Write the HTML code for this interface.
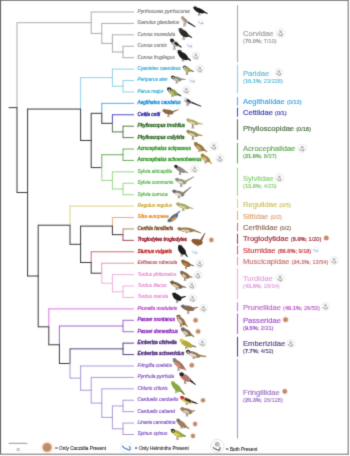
<!DOCTYPE html>
<html><head><meta charset="utf-8"><style>
html,body{margin:0;padding:0;background:#fff;}
svg{display:block;font-family:"Liberation Sans",sans-serif;}
</style></head><body>
<svg width="350" height="456" viewBox="0 0 350 456">
<defs><filter id="soft" color-interpolation-filters="sRGB" x="0" y="0" width="350" height="456" filterUnits="userSpaceOnUse"><feConvolveMatrix order="3" kernelMatrix="0.12 0.7 0.12 0.7 4 0.7 0.12 0.7 0.12" divisor="7.28" edgeMode="duplicate" preserveAlpha="false"/></filter></defs>
<g filter="url(#soft)">
<rect x="0" y="0" width="350" height="456" fill="#fff"/>
<g stroke-width="1.0" fill="none" stroke-linecap="butt">
<line x1="17.00" y1="22.21" x2="17.00" y2="108.12" stroke="#adadad"/>
<line x1="17.00" y1="22.71" x2="91.20" y2="22.71" stroke="#adadad"/>
<line x1="91.20" y1="11.50" x2="91.20" y2="23.21" stroke="#adadad"/>
<line x1="91.20" y1="12.00" x2="134.00" y2="12.00" stroke="#adadad"/>
<line x1="91.20" y1="22.21" x2="91.20" y2="33.91" stroke="#adadad"/>
<line x1="91.20" y1="33.41" x2="101.80" y2="33.41" stroke="#adadad"/>
<line x1="101.80" y1="22.92" x2="101.80" y2="33.91" stroke="#adadad"/>
<line x1="101.80" y1="23.42" x2="134.00" y2="23.42" stroke="#adadad"/>
<line x1="101.80" y1="32.91" x2="101.80" y2="43.90" stroke="#adadad"/>
<line x1="101.80" y1="43.40" x2="112.40" y2="43.40" stroke="#adadad"/>
<line x1="112.40" y1="34.34" x2="112.40" y2="43.90" stroke="#adadad"/>
<line x1="112.40" y1="34.84" x2="134.00" y2="34.84" stroke="#adadad"/>
<line x1="112.40" y1="42.90" x2="112.40" y2="52.47" stroke="#adadad"/>
<line x1="112.40" y1="51.97" x2="123.00" y2="51.97" stroke="#adadad"/>
<line x1="123.00" y1="45.76" x2="123.00" y2="52.47" stroke="#adadad"/>
<line x1="123.00" y1="46.26" x2="134.00" y2="46.26" stroke="#adadad"/>
<line x1="123.00" y1="51.47" x2="123.00" y2="58.18" stroke="#adadad"/>
<line x1="123.00" y1="57.68" x2="134.00" y2="57.68" stroke="#adadad"/>
<line x1="17.00" y1="107.12" x2="17.00" y2="193.04" stroke="#3c3c3c"/>
<line x1="17.00" y1="192.54" x2="27.60" y2="192.54" stroke="#3c3c3c"/>
<line x1="27.60" y1="108.56" x2="27.60" y2="193.04" stroke="#3c3c3c"/>
<line x1="27.60" y1="109.06" x2="80.60" y2="109.06" stroke="#3c3c3c"/>
<line x1="80.60" y1="77.16" x2="80.60" y2="109.56" stroke="#92d0e6"/>
<line x1="80.60" y1="77.66" x2="112.40" y2="77.66" stroke="#92d0e6"/>
<line x1="112.40" y1="68.59" x2="112.40" y2="78.16" stroke="#92d0e6"/>
<line x1="112.40" y1="69.09" x2="134.00" y2="69.09" stroke="#92d0e6"/>
<line x1="112.40" y1="77.16" x2="112.40" y2="86.72" stroke="#92d0e6"/>
<line x1="112.40" y1="86.22" x2="123.00" y2="86.22" stroke="#92d0e6"/>
<line x1="123.00" y1="80.01" x2="123.00" y2="86.72" stroke="#92d0e6"/>
<line x1="123.00" y1="80.51" x2="134.00" y2="80.51" stroke="#92d0e6"/>
<line x1="123.00" y1="85.72" x2="123.00" y2="92.43" stroke="#92d0e6"/>
<line x1="123.00" y1="91.93" x2="134.00" y2="91.93" stroke="#92d0e6"/>
<line x1="80.60" y1="108.56" x2="80.60" y2="140.96" stroke="#3c3c3c"/>
<line x1="80.60" y1="140.46" x2="91.20" y2="140.46" stroke="#3c3c3c"/>
<line x1="91.20" y1="112.84" x2="91.20" y2="140.96" stroke="#3c3c3c"/>
<line x1="91.20" y1="113.34" x2="101.80" y2="113.34" stroke="#3c3c3c"/>
<line x1="101.80" y1="102.85" x2="101.80" y2="113.84" stroke="#54ace2"/>
<line x1="101.80" y1="103.35" x2="134.00" y2="103.35" stroke="#54ace2"/>
<line x1="101.80" y1="112.84" x2="101.80" y2="123.84" stroke="#3c3c3c"/>
<line x1="101.80" y1="123.34" x2="112.40" y2="123.34" stroke="#3c3c3c"/>
<line x1="112.40" y1="114.27" x2="112.40" y2="123.84" stroke="#5050c4"/>
<line x1="112.40" y1="114.77" x2="134.00" y2="114.77" stroke="#5050c4"/>
<line x1="112.40" y1="122.84" x2="112.40" y2="132.40" stroke="#5a7e52"/>
<line x1="112.40" y1="131.90" x2="123.00" y2="131.90" stroke="#5a7e52"/>
<line x1="123.00" y1="125.69" x2="123.00" y2="132.40" stroke="#5a7e52"/>
<line x1="123.00" y1="126.19" x2="134.00" y2="126.19" stroke="#5a7e52"/>
<line x1="123.00" y1="131.40" x2="123.00" y2="138.11" stroke="#5a7e52"/>
<line x1="123.00" y1="137.61" x2="134.00" y2="137.61" stroke="#5a7e52"/>
<line x1="91.20" y1="139.96" x2="91.20" y2="168.08" stroke="#3c3c3c"/>
<line x1="91.20" y1="167.58" x2="101.80" y2="167.58" stroke="#3c3c3c"/>
<line x1="101.80" y1="154.24" x2="101.80" y2="168.08" stroke="#68b05a"/>
<line x1="101.80" y1="154.74" x2="123.00" y2="154.74" stroke="#68b05a"/>
<line x1="123.00" y1="148.53" x2="123.00" y2="155.24" stroke="#68b05a"/>
<line x1="123.00" y1="149.03" x2="134.00" y2="149.03" stroke="#68b05a"/>
<line x1="123.00" y1="154.24" x2="123.00" y2="160.95" stroke="#68b05a"/>
<line x1="123.00" y1="160.45" x2="134.00" y2="160.45" stroke="#68b05a"/>
<line x1="101.80" y1="167.08" x2="101.80" y2="180.93" stroke="#98d888"/>
<line x1="101.80" y1="180.43" x2="112.40" y2="180.43" stroke="#98d888"/>
<line x1="112.40" y1="171.37" x2="112.40" y2="180.93" stroke="#98d888"/>
<line x1="112.40" y1="171.87" x2="134.00" y2="171.87" stroke="#98d888"/>
<line x1="112.40" y1="179.93" x2="112.40" y2="189.49" stroke="#98d888"/>
<line x1="112.40" y1="188.99" x2="123.00" y2="188.99" stroke="#98d888"/>
<line x1="123.00" y1="182.78" x2="123.00" y2="189.49" stroke="#98d888"/>
<line x1="123.00" y1="183.28" x2="134.00" y2="183.28" stroke="#98d888"/>
<line x1="123.00" y1="188.49" x2="123.00" y2="195.20" stroke="#98d888"/>
<line x1="123.00" y1="194.70" x2="134.00" y2="194.70" stroke="#98d888"/>
<line x1="27.60" y1="192.04" x2="27.60" y2="276.52" stroke="#3c3c3c"/>
<line x1="27.60" y1="276.02" x2="38.20" y2="276.02" stroke="#3c3c3c"/>
<line x1="38.20" y1="224.71" x2="38.20" y2="276.52" stroke="#3c3c3c"/>
<line x1="38.20" y1="225.21" x2="70.00" y2="225.21" stroke="#3c3c3c"/>
<line x1="70.00" y1="205.62" x2="70.00" y2="225.71" stroke="#dcd28c"/>
<line x1="70.00" y1="206.12" x2="134.00" y2="206.12" stroke="#dcd28c"/>
<line x1="70.00" y1="224.71" x2="70.00" y2="244.81" stroke="#3c3c3c"/>
<line x1="70.00" y1="244.31" x2="80.60" y2="244.31" stroke="#3c3c3c"/>
<line x1="80.60" y1="225.61" x2="80.60" y2="244.81" stroke="#3c3c3c"/>
<line x1="80.60" y1="226.11" x2="112.40" y2="226.11" stroke="#3c3c3c"/>
<line x1="112.40" y1="217.04" x2="112.40" y2="226.61" stroke="#e6b07c"/>
<line x1="112.40" y1="217.54" x2="134.00" y2="217.54" stroke="#e6b07c"/>
<line x1="112.40" y1="225.61" x2="112.40" y2="235.17" stroke="#3c3c3c"/>
<line x1="112.40" y1="234.67" x2="123.00" y2="234.67" stroke="#3c3c3c"/>
<line x1="123.00" y1="228.46" x2="123.00" y2="235.17" stroke="#ac8c70"/>
<line x1="123.00" y1="228.96" x2="134.00" y2="228.96" stroke="#ac8c70"/>
<line x1="123.00" y1="234.17" x2="123.00" y2="240.88" stroke="#a44858"/>
<line x1="123.00" y1="240.38" x2="134.00" y2="240.38" stroke="#a44858"/>
<line x1="80.60" y1="243.81" x2="80.60" y2="263.00" stroke="#3c3c3c"/>
<line x1="80.60" y1="262.50" x2="91.20" y2="262.50" stroke="#3c3c3c"/>
<line x1="91.20" y1="251.30" x2="91.20" y2="263.00" stroke="#d46474"/>
<line x1="91.20" y1="251.80" x2="134.00" y2="251.80" stroke="#d46474"/>
<line x1="91.20" y1="262.00" x2="91.20" y2="273.71" stroke="#3c3c3c"/>
<line x1="91.20" y1="273.21" x2="101.80" y2="273.21" stroke="#3c3c3c"/>
<line x1="101.80" y1="262.72" x2="101.80" y2="273.71" stroke="#e09ca8"/>
<line x1="101.80" y1="263.22" x2="134.00" y2="263.22" stroke="#e09ca8"/>
<line x1="101.80" y1="272.71" x2="101.80" y2="283.70" stroke="#eeb0dc"/>
<line x1="101.80" y1="283.20" x2="112.40" y2="283.20" stroke="#eeb0dc"/>
<line x1="112.40" y1="274.14" x2="112.40" y2="283.70" stroke="#eeb0dc"/>
<line x1="112.40" y1="274.64" x2="134.00" y2="274.64" stroke="#eeb0dc"/>
<line x1="112.40" y1="282.70" x2="112.40" y2="292.27" stroke="#eeb0dc"/>
<line x1="112.40" y1="291.77" x2="123.00" y2="291.77" stroke="#eeb0dc"/>
<line x1="123.00" y1="285.56" x2="123.00" y2="292.27" stroke="#eeb0dc"/>
<line x1="123.00" y1="286.06" x2="134.00" y2="286.06" stroke="#eeb0dc"/>
<line x1="123.00" y1="291.27" x2="123.00" y2="297.98" stroke="#eeb0dc"/>
<line x1="123.00" y1="297.48" x2="134.00" y2="297.48" stroke="#eeb0dc"/>
<line x1="38.20" y1="275.52" x2="38.20" y2="327.33" stroke="#3c3c3c"/>
<line x1="38.20" y1="326.83" x2="48.80" y2="326.83" stroke="#3c3c3c"/>
<line x1="48.80" y1="308.39" x2="48.80" y2="327.33" stroke="#d878e2"/>
<line x1="48.80" y1="308.89" x2="134.00" y2="308.89" stroke="#d878e2"/>
<line x1="48.80" y1="326.33" x2="48.80" y2="345.26" stroke="#3c3c3c"/>
<line x1="48.80" y1="344.76" x2="59.40" y2="344.76" stroke="#3c3c3c"/>
<line x1="59.40" y1="325.52" x2="59.40" y2="345.26" stroke="#a664d2"/>
<line x1="59.40" y1="326.02" x2="123.00" y2="326.02" stroke="#a664d2"/>
<line x1="123.00" y1="319.81" x2="123.00" y2="326.52" stroke="#a664d2"/>
<line x1="123.00" y1="320.31" x2="134.00" y2="320.31" stroke="#a664d2"/>
<line x1="123.00" y1="325.52" x2="123.00" y2="332.23" stroke="#a664d2"/>
<line x1="123.00" y1="331.73" x2="134.00" y2="331.73" stroke="#a664d2"/>
<line x1="59.40" y1="344.26" x2="59.40" y2="363.99" stroke="#3c3c3c"/>
<line x1="59.40" y1="363.49" x2="70.00" y2="363.49" stroke="#3c3c3c"/>
<line x1="70.00" y1="348.36" x2="70.00" y2="363.99" stroke="#5a4682"/>
<line x1="70.00" y1="348.86" x2="123.00" y2="348.86" stroke="#5a4682"/>
<line x1="123.00" y1="342.65" x2="123.00" y2="349.36" stroke="#5a4682"/>
<line x1="123.00" y1="343.15" x2="134.00" y2="343.15" stroke="#5a4682"/>
<line x1="123.00" y1="348.36" x2="123.00" y2="355.07" stroke="#5a4682"/>
<line x1="123.00" y1="354.57" x2="134.00" y2="354.57" stroke="#5a4682"/>
<line x1="70.00" y1="362.99" x2="70.00" y2="378.62" stroke="#ae98d8"/>
<line x1="70.00" y1="378.12" x2="80.60" y2="378.12" stroke="#ae98d8"/>
<line x1="80.60" y1="365.49" x2="80.60" y2="378.62" stroke="#ae98d8"/>
<line x1="80.60" y1="365.99" x2="134.00" y2="365.99" stroke="#ae98d8"/>
<line x1="80.60" y1="377.62" x2="80.60" y2="390.75" stroke="#ae98d8"/>
<line x1="80.60" y1="390.25" x2="91.20" y2="390.25" stroke="#ae98d8"/>
<line x1="91.20" y1="376.91" x2="91.20" y2="390.75" stroke="#ae98d8"/>
<line x1="91.20" y1="377.41" x2="134.00" y2="377.41" stroke="#ae98d8"/>
<line x1="91.20" y1="389.75" x2="91.20" y2="403.60" stroke="#ae98d8"/>
<line x1="91.20" y1="403.10" x2="101.80" y2="403.10" stroke="#ae98d8"/>
<line x1="101.80" y1="388.33" x2="101.80" y2="403.60" stroke="#ae98d8"/>
<line x1="101.80" y1="388.83" x2="134.00" y2="388.83" stroke="#ae98d8"/>
<line x1="101.80" y1="402.60" x2="101.80" y2="417.87" stroke="#ae98d8"/>
<line x1="101.80" y1="417.37" x2="112.40" y2="417.37" stroke="#ae98d8"/>
<line x1="112.40" y1="405.46" x2="112.40" y2="417.87" stroke="#ae98d8"/>
<line x1="112.40" y1="405.96" x2="123.00" y2="405.96" stroke="#ae98d8"/>
<line x1="123.00" y1="399.75" x2="123.00" y2="406.46" stroke="#ae98d8"/>
<line x1="123.00" y1="400.25" x2="134.00" y2="400.25" stroke="#ae98d8"/>
<line x1="123.00" y1="405.46" x2="123.00" y2="412.17" stroke="#ae98d8"/>
<line x1="123.00" y1="411.67" x2="134.00" y2="411.67" stroke="#ae98d8"/>
<line x1="112.40" y1="416.87" x2="112.40" y2="429.29" stroke="#ae98d8"/>
<line x1="112.40" y1="428.79" x2="123.00" y2="428.79" stroke="#ae98d8"/>
<line x1="123.00" y1="422.58" x2="123.00" y2="429.29" stroke="#ae98d8"/>
<line x1="123.00" y1="423.08" x2="134.00" y2="423.08" stroke="#ae98d8"/>
<line x1="123.00" y1="428.29" x2="123.00" y2="435.00" stroke="#ae98d8"/>
<line x1="123.00" y1="434.50" x2="134.00" y2="434.50" stroke="#ae98d8"/>
<line x1="8.60" y1="107.62" x2="17.00" y2="107.62" stroke="#3c3c3c"/>
</g>
<g font-size="4.8" font-style="italic">
<text x="137.5" y="12.90" fill="#888888" stroke="#888888" stroke-width="0.2">Pyrrhocorax pyrrhocorax</text>
<text x="137.5" y="24.32" fill="#888888" stroke="#888888" stroke-width="0.2">Garrulus glandarius</text>
<text x="137.5" y="35.74" fill="#888888" stroke="#888888" stroke-width="0.2">Corvus monedula</text>
<text x="137.5" y="47.16" fill="#888888" stroke="#888888" stroke-width="0.2">Corvus cornix</text>
<text x="137.5" y="58.58" fill="#888888" stroke="#888888" stroke-width="0.2">Corvus frugilegus</text>
<text x="137.5" y="70.00" fill="#44b2da" stroke="#44b2da" stroke-width="0.2">Cyanistes caeruleus</text>
<text x="137.5" y="81.41" fill="#44b2da" stroke="#44b2da" stroke-width="0.2">Periparus ater</text>
<text x="137.5" y="92.83" fill="#44b2da" stroke="#44b2da" stroke-width="0.2">Parus major</text>
<text x="137.5" y="104.25" fill="#2096dc" stroke="#2096dc" stroke-width="0.34">Aegithalos caudatus</text>
<text x="137.5" y="115.67" fill="#3030a8" stroke="#3030a8" stroke-width="0.34">Cettia cetti</text>
<text x="137.5" y="127.09" fill="#2e6a24" stroke="#2e6a24" stroke-width="0.34">Phylloscopus trochilus</text>
<text x="137.5" y="138.51" fill="#2e6a24" stroke="#2e6a24" stroke-width="0.34">Phylloscopus collybita</text>
<text x="137.5" y="149.93" fill="#3a9a30" stroke="#3a9a30" stroke-width="0.34">Acrocephalus scirpaceus</text>
<text x="137.5" y="161.35" fill="#3a9a30" stroke="#3a9a30" stroke-width="0.34">Acrocephalus schoenobaenus</text>
<text x="137.5" y="172.77" fill="#58b84c" stroke="#58b84c" stroke-width="0.2">Sylvia atricapilla</text>
<text x="137.5" y="184.19" fill="#58b84c" stroke="#58b84c" stroke-width="0.2">Sylvia communis</text>
<text x="137.5" y="195.60" fill="#58b84c" stroke="#58b84c" stroke-width="0.2">Sylvia curruca</text>
<text x="137.5" y="207.02" fill="#c8a830" stroke="#c8a830" stroke-width="0.2">Regulus regulus</text>
<text x="137.5" y="218.44" fill="#e88820" stroke="#e88820" stroke-width="0.2">Sitta europaea</text>
<text x="137.5" y="229.86" fill="#7a5028" stroke="#7a5028" stroke-width="0.34">Certhia familiaris</text>
<text x="137.5" y="241.28" fill="#981c30" stroke="#981c30" stroke-width="0.34">Troglodytes troglodytes</text>
<text x="137.5" y="252.70" fill="#c02828" stroke="#c02828" stroke-width="0.34">Sturnus vulgaris</text>
<text x="137.5" y="264.12" fill="#b86060" stroke="#b86060" stroke-width="0.2">Erithacus rubecula</text>
<text x="137.5" y="275.54" fill="#e890d0" stroke="#e890d0" stroke-width="0.2">Turdus philomelos</text>
<text x="137.5" y="286.96" fill="#e890d0" stroke="#e890d0" stroke-width="0.2">Turdus iliacus</text>
<text x="137.5" y="298.38" fill="#e890d0" stroke="#e890d0" stroke-width="0.2">Turdus merula</text>
<text x="137.5" y="309.79" fill="#b840c8" stroke="#b840c8" stroke-width="0.2">Prunella modularis</text>
<text x="137.5" y="321.21" fill="#9030c0" stroke="#9030c0" stroke-width="0.34">Passer montanus</text>
<text x="137.5" y="332.63" fill="#9030c0" stroke="#9030c0" stroke-width="0.34">Passer domesticus</text>
<text x="137.5" y="344.05" fill="#4a2478" stroke="#4a2478" stroke-width="0.34">Emberiza citrinella</text>
<text x="137.5" y="355.47" fill="#4a2478" stroke="#4a2478" stroke-width="0.34">Emberiza schoeniclus</text>
<text x="137.5" y="366.89" fill="#8a60c8" stroke="#8a60c8" stroke-width="0.2">Fringilla coelebs</text>
<text x="137.5" y="378.31" fill="#8a60c8" stroke="#8a60c8" stroke-width="0.2">Pyrrhula pyrrhula</text>
<text x="137.5" y="389.73" fill="#8a60c8" stroke="#8a60c8" stroke-width="0.2">Chloris chloris</text>
<text x="137.5" y="401.15" fill="#8a60c8" stroke="#8a60c8" stroke-width="0.2">Carduelis carduelis</text>
<text x="137.5" y="412.56" fill="#8a60c8" stroke="#8a60c8" stroke-width="0.2">Carduelis cabaret</text>
<text x="137.5" y="423.98" fill="#8a60c8" stroke="#8a60c8" stroke-width="0.2">Linaria cannabina</text>
<text x="137.5" y="435.40" fill="#8a60c8" stroke="#8a60c8" stroke-width="0.2">Spinus spinus</text>
</g>
<g>
<polyline points="198.44,15.80 199.14,11.97 200.04,15.80" fill="none" stroke="#4a4038" stroke-width="0.55"/><polygon points="202.35,12.26 207.42,14.08 207.78,13.32 203.14,10.60" fill="#1e1e1e"/><ellipse cx="199.33" cy="10.50" rx="5.45" ry="2.30" fill="#1e1e1e" transform="rotate(24.3 199.33 10.50)"/><circle cx="195.12" cy="7.99" r="1.66" fill="#1e1e1e"/><polygon points="192.70,6.90 195.35,7.46 194.81,8.67" fill="#1e1e1e"/>
<polyline points="183.76,26.50 184.46,21.55 185.36,26.50" fill="none" stroke="#4a4038" stroke-width="0.55"/><polygon points="186.18,22.35 195.30,27.17 195.70,26.43 186.99,20.83" fill="#242424"/><ellipse cx="184.76" cy="20.49" rx="3.90" ry="2.15" fill="#cdbfb5" transform="rotate(45.0 184.76 20.49)"/><ellipse cx="185.54" cy="20.54" rx="2.42" ry="1.07" fill="#8a8a8a" transform="rotate(45.0 185.54 20.54)"/><circle cx="182.75" cy="17.75" r="1.55" fill="#a89484"/><polygon points="181.00,16.00 183.13,17.37 182.26,18.24" fill="#a89484"/>
<polyline points="182.87,40.00 183.57,34.93 184.47,40.00" fill="none" stroke="#4a4038" stroke-width="0.55"/><polygon points="186.05,35.47 191.80,38.07 192.20,37.33 187.17,33.44" fill="#2a2a2a"/><ellipse cx="183.92" cy="33.31" rx="5.31" ry="2.90" fill="#2a2a2a" transform="rotate(36.9 183.92 33.31)"/><circle cx="180.67" cy="30.00" r="2.09" fill="#3a3a3a"/><polygon points="178.00,28.00 181.11,29.42 180.11,30.76" fill="#3a3a3a"/>
<polyline points="173.64,50.00 174.34,44.65 175.24,50.00" fill="none" stroke="#4a4038" stroke-width="0.55"/><polygon points="176.20,44.92 181.47,47.75 181.93,47.05 177.33,43.17" fill="#1e1e1e"/><ellipse cx="174.65" cy="43.21" rx="4.40" ry="2.60" fill="#b0b0b0" transform="rotate(37.6 174.65 43.21)"/><ellipse cx="176.43" cy="43.79" rx="2.42" ry="1.30" fill="#1e1e1e" transform="rotate(37.6 176.43 43.79)"/><circle cx="172.07" cy="40.43" r="1.87" fill="#1e1e1e"/><polygon points="169.70,38.60 172.47,39.91 171.56,41.10" fill="#1e1e1e"/>
<polyline points="182.06,61.50 182.76,57.53 183.66,61.50" fill="none" stroke="#4a4038" stroke-width="0.55"/><polygon points="185.47,58.39 190.68,60.96 191.12,60.24 186.73,56.35" fill="#1e1e1e"/><ellipse cx="183.14" cy="55.90" rx="5.78" ry="3.00" fill="#1e1e1e" transform="rotate(39.0 183.14 55.90)"/><circle cx="179.69" cy="52.17" r="2.16" fill="#1e1e1e"/><polygon points="177.00,50.00 180.16,51.59 179.07,52.93" fill="#1e1e1e"/>
<polyline points="186.11,75.00 186.81,70.91 187.71,75.00" fill="none" stroke="#4a4038" stroke-width="0.55"/><polygon points="188.45,70.68 193.79,72.00 194.01,71.20 188.99,68.76" fill="#5a6a78"/><ellipse cx="187.07" cy="69.41" rx="3.70" ry="2.50" fill="#a0a458" transform="rotate(31.4 187.07 69.41)"/><ellipse cx="186.07" cy="69.98" rx="2.22" ry="1.25" fill="#d0c458" transform="rotate(31.4 186.07 69.98)"/><circle cx="184.76" cy="67.30" r="1.80" fill="#4a5a70"/><polygon points="182.30,65.80 185.09,66.76 184.34,67.99" fill="#4a5a70"/><circle cx="184.83" cy="67.87" r="0.90" fill="#f0f0f0"/>
<polyline points="175.98,83.50 176.68,80.39 177.58,83.50" fill="none" stroke="#4a4038" stroke-width="0.55"/><polygon points="179.74,80.03 185.82,79.72 185.78,78.88 179.66,78.23" fill="#8a8a7a"/><ellipse cx="176.80" cy="78.87" rx="4.78" ry="2.25" fill="#8a8a7a" transform="rotate(15.8 176.80 78.87)"/><ellipse cx="175.87" cy="79.54" rx="2.87" ry="1.12" fill="#c8c0b0" transform="rotate(15.8 175.87 79.54)"/><circle cx="172.89" cy="77.21" r="1.62" fill="#222"/><polygon points="170.40,76.50 173.05,76.66 172.70,77.91" fill="#222"/><circle cx="173.10" cy="77.68" r="0.81" fill="#e8e8e8"/>
<polyline points="171.77,97.00 172.47,93.83 173.37,97.00" fill="none" stroke="#4a4038" stroke-width="0.55"/><polygon points="175.13,94.14 181.12,96.38 181.48,95.62 176.05,92.14" fill="#404848"/><ellipse cx="172.76" cy="92.19" rx="5.26" ry="2.75" fill="#8a9a58" transform="rotate(31.4 172.76 92.19)"/><ellipse cx="171.51" cy="92.72" rx="3.15" ry="1.38" fill="#c4bc5c" transform="rotate(31.4 171.51 92.72)"/><circle cx="169.21" cy="89.25" r="1.98" fill="#262626"/><polygon points="166.50,87.60 169.57,88.66 168.74,90.01" fill="#262626"/><circle cx="169.29" cy="89.88" r="0.99" fill="#e8e8e8"/>
<polyline points="186.78,106.00 187.48,102.44 188.38,106.00" fill="none" stroke="#4a4038" stroke-width="0.55"/><polygon points="189.51,102.62 201.05,106.69 201.35,105.91 190.16,100.90" fill="#262626"/><ellipse cx="187.72" cy="101.08" rx="4.11" ry="2.30" fill="#b8a8a8" transform="rotate(32.4 187.72 101.08)"/><ellipse cx="188.54" cy="100.94" rx="2.55" ry="1.15" fill="#303030" transform="rotate(32.4 188.54 100.94)"/><circle cx="185.04" cy="98.72" r="1.66" fill="#e8e8e8"/><polygon points="182.80,97.30 185.35,98.23 184.64,99.35" fill="#e8e8e8"/>
<polyline points="167.70,117.00 168.40,113.60 169.30,117.00" fill="none" stroke="#4a4038" stroke-width="0.55"/><polygon points="172.11,113.00 178.70,109.87 178.30,109.13 171.25,111.42" fill="#8a6a44"/><ellipse cx="168.50" cy="112.06" rx="5.06" ry="2.25" fill="#8a6a44" transform="rotate(12.5 168.50 112.06)"/><circle cx="164.23" cy="110.56" r="1.62" fill="#8a6a44"/><polygon points="161.70,110.00 164.35,110.01 164.07,111.27" fill="#8a6a44"/>
<polyline points="192.04,128.60 192.74,123.73 193.64,128.60" fill="none" stroke="#4a4038" stroke-width="0.55"/><polygon points="196.60,123.94 202.84,124.62 202.96,123.78 196.86,122.15" fill="#b0a868"/><ellipse cx="192.89" cy="122.24" rx="5.80" ry="2.25" fill="#b0a868" transform="rotate(19.7 192.89 122.24)"/><ellipse cx="191.77" cy="122.80" rx="3.48" ry="1.12" fill="#e0d8a0" transform="rotate(19.7 191.77 122.80)"/><circle cx="188.14" cy="119.97" r="1.62" fill="#b0a868"/><polygon points="185.70,119.10 188.33,119.44 187.90,120.66" fill="#b0a868"/>
<polyline points="192.10,140.00 192.80,135.39 193.70,140.00" fill="none" stroke="#4a4038" stroke-width="0.55"/><polygon points="196.50,135.46 202.44,136.12 202.56,135.28 196.79,133.57" fill="#9a8a58"/><ellipse cx="192.96" cy="133.81" rx="5.75" ry="2.40" fill="#9a8a58" transform="rotate(19.7 192.96 133.81)"/><ellipse cx="191.82" cy="134.42" rx="3.45" ry="1.20" fill="#d8d0a0" transform="rotate(19.7 191.82 134.42)"/><circle cx="188.30" cy="131.53" r="1.73" fill="#9a8a58"/><polygon points="185.70,130.60 188.51,130.96 188.04,132.26" fill="#9a8a58"/>
<polyline points="198.61,152.00 199.31,148.83 200.21,152.00" fill="none" stroke="#4a4038" stroke-width="0.55"/><polygon points="201.97,149.42 206.94,152.33 207.46,151.67 203.32,147.69" fill="#9a7838"/><ellipse cx="199.62" cy="147.25" rx="5.57" ry="2.75" fill="#9a7838" transform="rotate(34.9 199.62 147.25)"/><ellipse cx="198.31" cy="147.67" rx="3.34" ry="1.38" fill="#c8a870" transform="rotate(34.9 198.31 147.67)"/><circle cx="196.00" cy="143.91" r="1.98" fill="#9a7838"/><polygon points="193.40,142.10 196.39,143.35 195.49,144.64" fill="#9a7838"/>
<polyline points="204.72,163.50 205.42,159.96 206.32,163.50" fill="none" stroke="#4a4038" stroke-width="0.55"/><polygon points="207.36,160.12 211.14,163.92 211.86,163.48 209.13,159.02" fill="#a88840"/><ellipse cx="205.73" cy="158.49" rx="4.88" ry="2.60" fill="#a88840" transform="rotate(36.5 205.73 158.49)"/><ellipse cx="204.53" cy="158.89" rx="2.93" ry="1.30" fill="#d8c080" transform="rotate(36.5 204.53 158.89)"/><circle cx="202.71" cy="155.48" r="1.87" fill="#a88840"/><polygon points="200.30,153.70 203.10,154.95 202.21,156.16" fill="#a88840"/>
<polyline points="179.30,175.00 180.00,170.83 180.90,175.00" fill="none" stroke="#4a4038" stroke-width="0.55"/><polygon points="183.45,171.67 188.04,173.19 188.36,172.41 184.15,169.97" fill="#8e8a82"/><ellipse cx="180.23" cy="169.43" rx="5.75" ry="2.30" fill="#8e8a82" transform="rotate(29.5 180.23 169.43)"/><circle cx="176.01" cy="166.41" r="1.66" fill="#2a2a2a"/><polygon points="173.70,165.10 176.29,165.90 175.64,167.05" fill="#2a2a2a"/>
<polyline points="180.47,187.00 181.17,183.13 182.07,187.00" fill="none" stroke="#4a4038" stroke-width="0.55"/><polygon points="185.20,182.82 194.25,177.04 193.75,176.36 184.07,181.26" fill="#a09478"/><ellipse cx="181.33" cy="181.54" rx="5.34" ry="2.40" fill="#a09478" transform="rotate(18.6 181.33 181.54)"/><ellipse cx="180.26" cy="182.19" rx="3.20" ry="1.20" fill="#e0d8c8" transform="rotate(18.6 180.26 182.19)"/><circle cx="177.02" cy="179.48" r="1.73" fill="#8a8a88"/><polygon points="174.40,178.60 177.21,178.91 176.77,180.22" fill="#8a8a88"/>
<polyline points="178.08,198.40 178.78,195.13 179.68,198.40" fill="none" stroke="#4a4038" stroke-width="0.55"/><polygon points="183.31,194.71 191.41,187.08 190.79,186.52 181.84,193.35" fill="#8a8070"/><ellipse cx="178.93" cy="193.47" rx="5.77" ry="2.50" fill="#8a8070" transform="rotate(18.2 178.93 193.47)"/><ellipse cx="177.80" cy="194.15" rx="3.46" ry="1.25" fill="#e8e4dc" transform="rotate(18.2 177.80 194.15)"/><circle cx="174.24" cy="191.30" r="1.80" fill="#6a6a6a"/><polygon points="171.50,190.40 174.43,190.70 173.98,192.07" fill="#6a6a6a"/>
<polyline points="182.50,211.00 183.20,207.92 184.10,211.00" fill="none" stroke="#4a4038" stroke-width="0.55"/><polygon points="187.39,208.00 193.20,209.01 193.40,208.19 187.86,206.14" fill="#a8a868"/><ellipse cx="183.34" cy="206.32" rx="6.35" ry="2.40" fill="#a8a868" transform="rotate(17.5 183.34 206.32)"/><ellipse cx="182.15" cy="206.94" rx="3.81" ry="1.20" fill="#d0d0a0" transform="rotate(17.5 182.15 206.94)"/><circle cx="178.04" cy="204.03" r="1.73" fill="#a8a868"/><polygon points="175.40,203.20 178.22,203.46 177.80,204.77" fill="#a8a868"/>
<polygon points="176.57,215.67 180.50,210.99 179.90,210.41 175.14,214.27" fill="#5a6e84"/><ellipse cx="173.59" cy="217.68" rx="5.61" ry="2.50" fill="#5a6e84" transform="rotate(-40.3 173.59 217.68)"/><ellipse cx="173.59" cy="218.98" rx="3.37" ry="1.25" fill="#d89050" transform="rotate(-40.3 173.59 218.98)"/><circle cx="169.40" cy="220.44" r="1.80" fill="#5a6e84"/><polygon points="167.20,222.30 168.99,219.96 169.92,221.06" fill="#5a6e84"/>
<polyline points="185.83,233.00 186.53,231.47 187.43,233.00" fill="none" stroke="#4a4038" stroke-width="0.55"/><polygon points="192.25,230.71 201.03,233.58 201.37,232.82 193.00,229.03" fill="#9a7a50"/><ellipse cx="186.57" cy="229.87" rx="7.99" ry="2.30" fill="#9a7a50" transform="rotate(5.3 186.57 229.87)"/><ellipse cx="185.29" cy="230.68" rx="4.79" ry="1.15" fill="#e0d0b8" transform="rotate(5.3 185.29 230.68)"/><circle cx="179.24" cy="228.64" r="1.66" fill="#9a7a50"/><polygon points="176.60,228.40 179.29,228.07 179.17,229.38" fill="#9a7a50"/>
<polyline points="197.04,246.40 197.74,244.27 198.64,246.40" fill="none" stroke="#4a4038" stroke-width="0.55"/><polygon points="201.35,242.14 205.30,233.33 204.50,233.07 199.08,241.39" fill="#8a5a30"/><ellipse cx="197.82" cy="242.19" rx="4.88" ry="3.00" fill="#8a5a30" transform="rotate(7.4 197.82 242.19)"/><circle cx="193.83" cy="240.94" r="2.16" fill="#8a5a30"/><polygon points="190.40,240.50 193.92,240.19 193.70,241.91" fill="#8a5a30"/>
<polyline points="180.88,256.60 181.58,251.88 182.48,256.60" fill="none" stroke="#4a4038" stroke-width="0.55"/><polygon points="182.83,252.24 187.14,257.32 187.86,256.88 184.88,250.99" fill="#1e1e1e"/><ellipse cx="182.04" cy="250.54" rx="4.53" ry="3.00" fill="#1e1e1e" transform="rotate(50.5 182.04 250.54)"/><circle cx="180.20" cy="247.17" r="2.16" fill="#1e1e1e"/><polygon points="178.00,244.50 180.78,246.69 179.45,247.79" fill="#1e1e1e"/>
<polyline points="185.34,269.00 186.04,265.36 186.94,269.00" fill="none" stroke="#4a4038" stroke-width="0.55"/><polygon points="188.42,265.29 193.92,266.21 194.08,265.39 188.82,263.25" fill="#8a6a40"/><ellipse cx="186.28" cy="263.75" rx="4.53" ry="2.60" fill="#8a6a40" transform="rotate(27.8 186.28 263.75)"/><ellipse cx="185.20" cy="264.35" rx="2.72" ry="1.30" fill="#d87a3a" transform="rotate(27.8 185.20 264.35)"/><circle cx="183.15" cy="261.40" r="1.87" fill="#8a6a40"/><polygon points="180.50,260.00 183.46,260.82 182.76,262.14" fill="#8a6a40"/>
<polyline points="184.19,281.00 184.89,276.82 185.79,281.00" fill="none" stroke="#4a4038" stroke-width="0.55"/><polygon points="187.57,277.19 192.45,277.82 192.55,276.98 187.81,275.12" fill="#8a6a48"/><ellipse cx="185.17" cy="275.28" rx="4.80" ry="2.60" fill="#8a6a48" transform="rotate(32.7 185.17 275.28)"/><ellipse cx="184.00" cy="275.77" rx="2.88" ry="1.30" fill="#e0c8a0" transform="rotate(32.7 184.00 275.77)"/><circle cx="182.02" cy="272.52" r="1.87" fill="#8a6a48"/><polygon points="179.50,270.90 182.37,271.97 181.57,273.23" fill="#8a6a48"/>
<polyline points="175.92,290.00 176.62,286.90 177.52,290.00" fill="none" stroke="#4a4038" stroke-width="0.55"/><polygon points="180.52,287.37 186.17,287.72 186.23,286.88 180.66,285.30" fill="#7a6040"/><ellipse cx="176.84" cy="285.25" rx="6.07" ry="2.60" fill="#7a6040" transform="rotate(25.3 176.84 285.25)"/><ellipse cx="175.57" cy="285.81" rx="3.64" ry="1.30" fill="#d8c8b0" transform="rotate(25.3 175.57 285.81)"/><circle cx="172.21" cy="282.38" r="1.87" fill="#7a6040"/><polygon points="169.50,281.10 172.49,281.79 171.85,283.14" fill="#7a6040"/>
<polyline points="176.28,303.00 176.98,298.88 177.88,303.00" fill="none" stroke="#4a4038" stroke-width="0.55"/><polygon points="180.16,299.04 186.10,296.67 185.70,295.93 179.10,297.11" fill="#1e1e1e"/><ellipse cx="177.29" cy="297.28" rx="4.73" ry="2.75" fill="#1e1e1e" transform="rotate(34.1 177.29 297.28)"/><circle cx="174.32" cy="294.48" r="1.98" fill="#1e1e1e"/><polygon points="171.70,292.70 174.71,293.90 173.82,295.21" fill="#1e1e1e"/>
<polyline points="187.50,314.00 188.20,309.97 189.10,314.00" fill="none" stroke="#4a4038" stroke-width="0.55"/><polygon points="192.97,309.56 197.98,307.58 197.62,306.82 192.11,307.75" fill="#8a6a50"/><ellipse cx="188.31" cy="308.27" rx="6.33" ry="2.50" fill="#8a6a50" transform="rotate(13.4 188.31 308.27)"/><circle cx="182.90" cy="306.37" r="1.80" fill="#6a6a70"/><polygon points="180.10,305.70 183.05,305.75 182.72,307.15" fill="#6a6a70"/>
<polyline points="180.13,327.00 180.83,322.27 181.73,327.00" fill="none" stroke="#4a4038" stroke-width="0.55"/><polygon points="183.00,323.52 187.30,326.99 187.90,326.41 184.67,321.91" fill="#9a7040"/><ellipse cx="181.26" cy="320.91" rx="5.54" ry="2.90" fill="#9a7040" transform="rotate(47.8 181.26 320.91)"/><ellipse cx="179.84" cy="321.07" rx="3.32" ry="1.45" fill="#d8c8b0" transform="rotate(47.8 179.84 321.07)"/><circle cx="178.54" cy="316.88" r="2.09" fill="#7a4a30"/><polygon points="176.30,314.40 179.08,316.38 177.85,317.51" fill="#7a4a30"/><circle cx="178.44" cy="317.54" r="1.04" fill="#e0e0e0"/>
<polyline points="185.64,337.00 186.34,333.98 187.24,337.00" fill="none" stroke="#4a4038" stroke-width="0.55"/><polygon points="188.97,334.46 193.95,337.24 194.45,336.56 190.29,332.70" fill="#8a7050"/><ellipse cx="186.65" cy="332.38" rx="5.49" ry="2.75" fill="#8a7050" transform="rotate(33.8 186.65 332.38)"/><ellipse cx="185.35" cy="332.84" rx="3.29" ry="1.38" fill="#d0c8c0" transform="rotate(33.8 185.35 332.84)"/><circle cx="183.03" cy="329.16" r="1.98" fill="#6a6a70"/><polygon points="180.40,327.40 183.42,328.59 182.54,329.90" fill="#6a6a70"/>
<polyline points="185.54,349.00 186.24,345.57 187.14,349.00" fill="none" stroke="#4a4038" stroke-width="0.55"/><polygon points="190.28,346.31 196.10,347.41 196.30,346.59 190.79,344.17" fill="#8a7a40"/><ellipse cx="186.50" cy="343.87" rx="6.56" ry="2.75" fill="#b8a840" transform="rotate(27.6 186.50 343.87)"/><circle cx="181.61" cy="340.57" r="1.98" fill="#d8c840"/><polygon points="178.80,339.10 181.93,339.95 181.19,341.36" fill="#d8c840"/>
<polyline points="192.97,359.00 193.67,356.16 194.57,359.00" fill="none" stroke="#4a4038" stroke-width="0.55"/><polygon points="198.45,356.51 206.27,356.92 206.33,356.08 198.61,354.43" fill="#9a7a58"/><ellipse cx="193.85" cy="354.44" rx="6.97" ry="2.60" fill="#9a7a58" transform="rotate(19.8 193.85 354.44)"/><ellipse cx="192.51" cy="355.07" rx="4.18" ry="1.30" fill="#e0dcd8" transform="rotate(19.8 192.51 355.07)"/><circle cx="188.12" cy="351.72" r="1.87" fill="#222"/><polygon points="185.30,350.70 188.34,351.10 187.83,352.51" fill="#222"/><circle cx="188.31" cy="352.28" r="0.94" fill="#d8d8d8"/>
<polyline points="177.82,371.00 178.52,365.94 179.42,371.00" fill="none" stroke="#4a4038" stroke-width="0.55"/><polygon points="181.93,367.67 185.69,370.48 186.31,369.92 183.56,366.19" fill="#a87060"/><ellipse cx="178.87" cy="364.48" rx="6.88" ry="2.75" fill="#a87060" transform="rotate(40.6 178.87 364.48)"/><ellipse cx="177.38" cy="364.65" rx="4.13" ry="1.38" fill="#d09070" transform="rotate(40.6 177.38 364.65)"/><circle cx="174.61" cy="359.96" r="1.98" fill="#7a8090"/><polygon points="172.20,357.90 175.06,359.43 174.03,360.64" fill="#7a8090"/>
<polyline points="184.39,384.00 185.09,379.50 185.99,384.00" fill="none" stroke="#4a4038" stroke-width="0.55"/><polygon points="187.75,379.92 195.43,385.02 195.97,384.38 189.27,378.06" fill="#222"/><ellipse cx="185.43" cy="377.77" rx="5.80" ry="3.00" fill="#d86a58" transform="rotate(34.2 185.43 377.77)"/><ellipse cx="186.55" cy="377.66" rx="3.59" ry="1.50" fill="#888" transform="rotate(34.2 186.55 377.66)"/><circle cx="181.66" cy="374.34" r="2.16" fill="#222"/><polygon points="178.80,372.40 182.08,373.71 181.11,375.14" fill="#222"/>
<polyline points="175.54,393.00 176.24,388.77 177.14,393.00" fill="none" stroke="#4a4038" stroke-width="0.55"/><polygon points="178.96,390.11 184.28,394.88 184.92,394.32 180.61,388.66" fill="#506030"/><ellipse cx="176.62" cy="387.36" rx="6.04" ry="2.75" fill="#88a840" transform="rotate(42.7 176.62 387.36)"/><circle cx="173.13" cy="383.25" r="1.98" fill="#88a840"/><polygon points="170.80,381.10 173.60,382.74 172.53,383.90" fill="#88a840"/>
<polyline points="185.90,405.00 186.60,402.04 187.50,405.00" fill="none" stroke="#4a4038" stroke-width="0.55"/><polygon points="190.29,402.37 197.48,404.00 197.72,403.20 190.86,400.37" fill="#222"/><ellipse cx="186.82" cy="400.38" rx="6.05" ry="2.60" fill="#c8a870" transform="rotate(24.0 186.82 400.38)"/><ellipse cx="185.56" cy="400.96" rx="3.63" ry="1.30" fill="#e8d040" transform="rotate(24.0 185.56 400.96)"/><ellipse cx="187.90" cy="400.18" rx="3.75" ry="1.30" fill="#333" transform="rotate(24.0 187.90 400.18)"/><circle cx="182.14" cy="397.62" r="1.87" fill="#d03030"/><polygon points="179.40,396.40 182.40,397.02 181.79,398.39" fill="#d03030"/>
<polyline points="186.13,416.50 186.83,412.90 187.73,416.50" fill="none" stroke="#4a4038" stroke-width="0.55"/><polygon points="190.86,412.50 195.26,411.09 194.94,410.31 190.01,410.48" fill="#9a8060"/><ellipse cx="187.00" cy="411.07" rx="5.73" ry="2.75" fill="#9a8060" transform="rotate(18.0 187.00 411.07)"/><ellipse cx="185.84" cy="411.85" rx="3.44" ry="1.38" fill="#d8c8b0" transform="rotate(18.0 185.84 411.85)"/><circle cx="182.41" cy="408.88" r="1.98" fill="#9a8060"/><polygon points="179.40,407.90 182.63,408.22 182.14,409.73" fill="#9a8060"/>
<polyline points="180.72,428.60 181.42,425.40 182.32,428.60" fill="none" stroke="#4a4038" stroke-width="0.55"/><polygon points="184.17,426.39 189.16,429.24 189.64,428.56 185.37,424.69" fill="#a08060"/><ellipse cx="181.75" cy="423.96" rx="5.57" ry="2.60" fill="#a08060" transform="rotate(38.0 181.75 423.96)"/><circle cx="178.26" cy="420.45" r="1.87" fill="#807070"/><polygon points="175.90,418.60 178.66,419.93 177.74,421.11" fill="#807070"/>
<polyline points="176.75,440.00 177.45,435.42 178.35,440.00" fill="none" stroke="#4a4038" stroke-width="0.55"/><polygon points="181.19,435.84 185.78,436.80 186.02,436.00 181.84,433.73" fill="#506030"/><ellipse cx="177.69" cy="433.68" rx="6.27" ry="2.75" fill="#a0a848" transform="rotate(25.7 177.69 433.68)"/><ellipse cx="176.37" cy="434.27" rx="3.76" ry="1.38" fill="#d8d050" transform="rotate(25.7 176.37 434.27)"/><circle cx="172.96" cy="430.67" r="1.98" fill="#222"/><polygon points="170.10,429.30 173.26,430.05 172.57,431.48" fill="#222"/><circle cx="173.10" cy="431.29" r="0.99" fill="#b8c048"/>
</g>
<g>
<circle cx="200.70" cy="22.30" r="3.20" fill="#fbfdff" stroke="#e0e8f0" stroke-width="0.35"/><path d="M198.72,21.82 C199.26,23.10 200.06,22.94 200.86,23.26 C201.66,23.58 202.14,24.06 202.62,23.74 C202.94,23.26 202.78,22.30 202.30,22.14" fill="none" stroke="#5a7ab0" stroke-width="0.58" stroke-linecap="round"/>
<circle cx="189.50" cy="45.40" r="3.20" fill="#fbfdff" stroke="#e0e8f0" stroke-width="0.35"/><path d="M187.52,44.92 C188.06,46.20 188.86,46.04 189.66,46.36 C190.46,46.68 190.94,47.16 191.42,46.84 C191.74,46.36 191.58,45.40 191.10,45.24" fill="none" stroke="#5a7ab0" stroke-width="0.58" stroke-linecap="round"/>
<circle cx="196.00" cy="56.00" r="4.00" fill="#fff" stroke="#d0d0d0" stroke-width="0.45"/><circle cx="195.88" cy="55.00" r="1.52" fill="#bcbcbc"/><path d="M193.60,56.88 C194.20,58.20 195.20,57.80 196.00,58.32 C196.80,58.88 197.68,58.60 197.60,56.80" fill="none" stroke="#4e4e4e" stroke-width="0.64" stroke-linecap="round"/>
<circle cx="199.90" cy="69.00" r="4.00" fill="#fff" stroke="#d0d0d0" stroke-width="0.45"/><circle cx="199.78" cy="68.00" r="1.52" fill="#bcbcbc"/><path d="M197.50,69.88 C198.10,71.20 199.10,70.80 199.90,71.32 C200.70,71.88 201.58,71.60 201.50,69.80" fill="none" stroke="#4e4e4e" stroke-width="0.64" stroke-linecap="round"/>
<circle cx="192.20" cy="80.60" r="3.20" fill="#fbfdff" stroke="#e0e8f0" stroke-width="0.35"/><path d="M190.22,80.12 C190.76,81.40 191.56,81.24 192.36,81.56 C193.16,81.88 193.64,82.36 194.12,82.04 C194.44,81.56 194.28,80.60 193.80,80.44" fill="none" stroke="#5a7ab0" stroke-width="0.58" stroke-linecap="round"/>
<circle cx="186.40" cy="90.20" r="4.00" fill="#fff" stroke="#d0d0d0" stroke-width="0.45"/><circle cx="186.28" cy="89.20" r="1.52" fill="#bcbcbc"/><path d="M184.00,91.08 C184.60,92.40 185.60,92.00 186.40,92.52 C187.20,93.08 188.08,92.80 188.00,91.00" fill="none" stroke="#4e4e4e" stroke-width="0.64" stroke-linecap="round"/>
<circle cx="214.00" cy="146.50" r="4.00" fill="#fff" stroke="#d0d0d0" stroke-width="0.45"/><circle cx="213.88" cy="145.50" r="1.52" fill="#bcbcbc"/><path d="M211.60,147.38 C212.20,148.70 213.20,148.30 214.00,148.82 C214.80,149.38 215.68,149.10 215.60,147.30" fill="none" stroke="#4e4e4e" stroke-width="0.64" stroke-linecap="round"/>
<circle cx="220.00" cy="158.50" r="4.00" fill="#fff" stroke="#d0d0d0" stroke-width="0.45"/><circle cx="219.88" cy="157.50" r="1.52" fill="#bcbcbc"/><path d="M217.60,159.38 C218.20,160.70 219.20,160.30 220.00,160.82 C220.80,161.38 221.68,161.10 221.60,159.30" fill="none" stroke="#4e4e4e" stroke-width="0.64" stroke-linecap="round"/>
<circle cx="194.70" cy="169.00" r="4.00" fill="#fff" stroke="#d0d0d0" stroke-width="0.45"/><circle cx="194.58" cy="168.00" r="1.52" fill="#bcbcbc"/><path d="M192.30,169.88 C192.90,171.20 193.90,170.80 194.70,171.32 C195.50,171.88 196.38,171.60 196.30,169.80" fill="none" stroke="#4e4e4e" stroke-width="0.64" stroke-linecap="round"/>
<circle cx="211.40" cy="240.00" r="2.80" fill="#faeee8" stroke="#ead8d0" stroke-width="0.22"/><circle cx="211.40" cy="240.00" r="2.13" fill="#c48a6a"/>
<circle cx="194.70" cy="252.00" r="3.00" fill="#fbfdff" stroke="#e0e8f0" stroke-width="0.35"/><path d="M192.84,251.55 C193.35,252.75 194.10,252.60 194.85,252.90 C195.60,253.20 196.05,253.65 196.50,253.35 C196.80,252.90 196.65,252.00 196.20,251.85" fill="none" stroke="#5a7ab0" stroke-width="0.54" stroke-linecap="round"/>
<circle cx="199.80" cy="263.70" r="4.00" fill="#fff" stroke="#d0d0d0" stroke-width="0.45"/><circle cx="199.68" cy="262.70" r="1.52" fill="#bcbcbc"/><path d="M197.40,264.58 C198.00,265.90 199.00,265.50 199.80,266.02 C200.60,266.58 201.48,266.30 201.40,264.50" fill="none" stroke="#4e4e4e" stroke-width="0.64" stroke-linecap="round"/>
<circle cx="198.00" cy="275.20" r="4.00" fill="#fff" stroke="#d0d0d0" stroke-width="0.45"/><circle cx="197.88" cy="274.20" r="1.52" fill="#bcbcbc"/><path d="M195.60,276.08 C196.20,277.40 197.20,277.00 198.00,277.52 C198.80,278.08 199.68,277.80 199.60,276.00" fill="none" stroke="#4e4e4e" stroke-width="0.64" stroke-linecap="round"/>
<circle cx="192.00" cy="285.40" r="4.00" fill="#fff" stroke="#d0d0d0" stroke-width="0.45"/><circle cx="191.88" cy="284.40" r="1.52" fill="#bcbcbc"/><path d="M189.60,286.28 C190.20,287.60 191.20,287.20 192.00,287.72 C192.80,288.28 193.68,288.00 193.60,286.20" fill="none" stroke="#4e4e4e" stroke-width="0.64" stroke-linecap="round"/>
<circle cx="192.70" cy="298.50" r="4.00" fill="#fff" stroke="#d0d0d0" stroke-width="0.45"/><circle cx="192.58" cy="297.50" r="1.52" fill="#bcbcbc"/><path d="M190.30,299.38 C190.90,300.70 191.90,300.30 192.70,300.82 C193.50,301.38 194.38,301.10 194.30,299.30" fill="none" stroke="#4e4e4e" stroke-width="0.64" stroke-linecap="round"/>
<circle cx="203.60" cy="308.20" r="4.00" fill="#fff" stroke="#d0d0d0" stroke-width="0.45"/><circle cx="203.48" cy="307.20" r="1.52" fill="#bcbcbc"/><path d="M201.20,309.08 C201.80,310.40 202.80,310.00 203.60,310.52 C204.40,311.08 205.28,310.80 205.20,309.00" fill="none" stroke="#4e4e4e" stroke-width="0.64" stroke-linecap="round"/>
<circle cx="195.60" cy="320.20" r="2.90" fill="#faeee8" stroke="#ead8d0" stroke-width="0.23"/><circle cx="195.60" cy="320.20" r="2.20" fill="#c48a6a"/>
<circle cx="198.10" cy="331.40" r="2.90" fill="#faeee8" stroke="#ead8d0" stroke-width="0.23"/><circle cx="198.10" cy="331.40" r="2.20" fill="#c48a6a"/>
<circle cx="202.40" cy="343.00" r="4.00" fill="#fff" stroke="#d0d0d0" stroke-width="0.45"/><circle cx="202.28" cy="342.00" r="1.52" fill="#bcbcbc"/><path d="M200.00,343.88 C200.60,345.20 201.60,344.80 202.40,345.32 C203.20,345.88 204.08,345.60 204.00,343.80" fill="none" stroke="#4e4e4e" stroke-width="0.64" stroke-linecap="round"/>
<circle cx="191.80" cy="365.20" r="2.90" fill="#faeee8" stroke="#ead8d0" stroke-width="0.23"/><circle cx="191.80" cy="365.20" r="2.20" fill="#c48a6a"/>
<circle cx="203.00" cy="400.30" r="2.80" fill="#faeee8" stroke="#ead8d0" stroke-width="0.22"/><circle cx="203.00" cy="400.30" r="2.13" fill="#c48a6a"/>
<circle cx="195.10" cy="424.00" r="2.80" fill="#faeee8" stroke="#ead8d0" stroke-width="0.22"/><circle cx="195.10" cy="424.00" r="2.13" fill="#c48a6a"/>
<circle cx="193.00" cy="436.00" r="2.80" fill="#faeee8" stroke="#ead8d0" stroke-width="0.22"/><circle cx="193.00" cy="436.00" r="2.13" fill="#c48a6a"/>
</g>
<g>
<rect x="236.95" y="5.30" width="1.1" height="56.90" fill="#adadad"/>
<text x="243" y="36.30" fill="#9a9a9a" font-size="7.6" stroke="#9a9a9a" stroke-width="0.15">Corvidae</text>
<text x="243" y="43.40" fill="#9a9a9a" stroke="#9a9a9a" stroke-width="0.12" font-size="5.6">(<tspan font-weight="700">70.0%</tspan>; 7/10)</text>
<circle cx="280.70" cy="33.00" r="4.40" fill="#fff" stroke="#d0d0d0" stroke-width="0.45"/><circle cx="280.57" cy="31.90" r="1.67" fill="#bcbcbc"/><path d="M278.06,33.97 C278.72,35.42 279.82,34.98 280.70,35.55 C281.58,36.17 282.55,35.86 282.46,33.88" fill="none" stroke="#4e4e4e" stroke-width="0.70" stroke-linecap="round"/>
<rect x="236.95" y="64.50" width="1.1" height="28.90" fill="#92d0e6"/>
<text x="243" y="76.20" fill="#5cbcd8" font-size="7.6" stroke="#5cbcd8" stroke-width="0.15">Paridae</text>
<text x="243" y="83.30" fill="#5cbcd8" stroke="#5cbcd8" stroke-width="0.12" font-size="5.6">(<tspan font-weight="700">10.1%</tspan>; 23/228)</text>
<circle cx="279.00" cy="72.50" r="4.00" fill="#fff" stroke="#d0d0d0" stroke-width="0.45"/><circle cx="278.88" cy="71.50" r="1.52" fill="#bcbcbc"/><path d="M276.60,73.38 C277.20,74.70 278.20,74.30 279.00,74.82 C279.80,75.38 280.68,75.10 280.60,73.30" fill="none" stroke="#4e4e4e" stroke-width="0.64" stroke-linecap="round"/>
<rect x="236.95" y="97.10" width="1.1" height="8.60" fill="#54ace2"/>
<text x="243" y="104.20" fill="#3aa0e0" font-size="7.6" stroke="#3aa0e0" stroke-width="0.15">Aegithalidae <tspan font-size="5.6">(0/13)</tspan></text>
<rect x="236.95" y="107.60" width="1.1" height="9.00" fill="#5050c4"/>
<text x="243" y="115.10" fill="#3838a8" font-size="7.6" stroke="#3838a8" stroke-width="0.15">Cettiidae <tspan font-size="5.6">(0/1)</tspan></text>
<rect x="236.95" y="119.20" width="1.1" height="20.70" fill="#5a7e52"/>
<text x="243" y="130.90" fill="#4a6a40" font-size="7.6" stroke="#4a6a40" stroke-width="0.15">Phylloscopidae <tspan font-size="5.6">(0/18)</tspan></text>
<rect x="236.95" y="142.90" width="1.1" height="20.60" fill="#68b05a"/>
<text x="243" y="150.50" fill="#60a850" font-size="7.6" stroke="#60a850" stroke-width="0.15">Acrocephalidae</text>
<text x="243" y="157.60" fill="#60a850" stroke="#60a850" stroke-width="0.12" font-size="5.6">(<tspan font-weight="700">21.6%</tspan>; 8/37)</text>
<circle cx="302.30" cy="148.30" r="4.10" fill="#fff" stroke="#d0d0d0" stroke-width="0.45"/><circle cx="302.18" cy="147.28" r="1.56" fill="#bcbcbc"/><path d="M299.84,149.20 C300.45,150.56 301.48,150.15 302.30,150.68 C303.12,151.25 304.02,150.97 303.94,149.12" fill="none" stroke="#4e4e4e" stroke-width="0.66" stroke-linecap="round"/>
<rect x="236.95" y="167.60" width="1.1" height="28.20" fill="#98d888"/>
<text x="243" y="180.50" fill="#88d078" font-size="7.6" stroke="#88d078" stroke-width="0.15">Sylviidae</text>
<text x="243" y="187.60" fill="#88d078" stroke="#88d078" stroke-width="0.12" font-size="5.6">(<tspan font-weight="700">13.8%</tspan>; 4/29)</text>
<circle cx="279.40" cy="178.00" r="4.10" fill="#fff" stroke="#d0d0d0" stroke-width="0.45"/><circle cx="279.28" cy="176.97" r="1.56" fill="#bcbcbc"/><path d="M276.94,178.90 C277.55,180.25 278.58,179.84 279.40,180.38 C280.22,180.95 281.12,180.66 281.04,178.82" fill="none" stroke="#4e4e4e" stroke-width="0.66" stroke-linecap="round"/>
<rect x="236.95" y="198.80" width="1.1" height="9.10" fill="#dcd28c"/>
<text x="243" y="206.90" fill="#ccc060" font-size="7.6" stroke="#ccc060" stroke-width="0.15">Regulidae <tspan font-size="5.6">(0/5)</tspan></text>
<rect x="236.95" y="210.90" width="1.1" height="9.20" fill="#e6b07c"/>
<text x="243" y="219.00" fill="#e0a070" font-size="7.6" stroke="#e0a070" stroke-width="0.15">Sittidae <tspan font-size="5.6">(0/2)</tspan></text>
<rect x="236.95" y="222.80" width="1.1" height="8.50" fill="#ac8c70"/>
<text x="243" y="230.20" fill="#8a6a50" font-size="7.6" stroke="#8a6a50" stroke-width="0.15">Certhiidae <tspan font-size="5.6">(0/2)</tspan></text>
<rect x="236.95" y="233.70" width="1.1" height="10.10" fill="#a44858"/>
<text x="243" y="241.40" fill="#a02838" font-size="7.6" stroke="#a02838" stroke-width="0.15">Troglodytidae <tspan font-size="5.6">(<tspan font-weight="700">5.0%</tspan>; 1/20)</tspan></text>
<circle cx="326.30" cy="238.00" r="3.10" fill="#faeee8" stroke="#ead8d0" stroke-width="0.25"/><circle cx="326.30" cy="238.00" r="2.36" fill="#c48a6a"/>
<rect x="236.95" y="245.50" width="1.1" height="9.00" fill="#d46474"/>
<text x="243" y="252.80" fill="#c83838" font-size="7.6" stroke="#c83838" stroke-width="0.15">Sturnidae <tspan font-size="5.6">(<tspan font-weight="700">50.0%</tspan>; 9/18)</tspan></text>
<circle cx="315.60" cy="250.00" r="3.00" fill="#fbfdff" stroke="#e0e8f0" stroke-width="0.35"/><path d="M313.74,249.55 C314.25,250.75 315.00,250.60 315.75,250.90 C316.50,251.20 316.95,251.65 317.40,251.35 C317.70,250.90 317.55,250.00 317.10,249.85" fill="none" stroke="#5a7ab0" stroke-width="0.54" stroke-linecap="round"/>
<rect x="236.95" y="256.60" width="1.1" height="8.90" fill="#e09ca8"/>
<text x="243" y="264.00" fill="#c87070" font-size="7.6" stroke="#c87070" stroke-width="0.15">Muscicapidae <tspan font-size="5.6">(<tspan font-weight="700">24.1%</tspan>; 13/54)</tspan></text>
<circle cx="334.20" cy="260.60" r="4.00" fill="#fff" stroke="#d0d0d0" stroke-width="0.45"/><circle cx="334.08" cy="259.60" r="1.52" fill="#bcbcbc"/><path d="M331.80,261.48 C332.40,262.80 333.40,262.40 334.20,262.92 C335.00,263.48 335.88,263.20 335.80,261.40" fill="none" stroke="#4e4e4e" stroke-width="0.64" stroke-linecap="round"/>
<rect x="236.95" y="268.40" width="1.1" height="30.80" fill="#eeb0dc"/>
<text x="243" y="280.80" fill="#e0a0e0" font-size="7.6" stroke="#e0a0e0" stroke-width="0.15">Turdidae</text>
<text x="243" y="287.90" fill="#e0a0e0" stroke="#e0a0e0" stroke-width="0.12" font-size="5.6">(<tspan font-weight="700">43.8%</tspan>; 28/64)</text>
<circle cx="280.20" cy="278.20" r="4.10" fill="#fff" stroke="#d0d0d0" stroke-width="0.45"/><circle cx="280.08" cy="277.18" r="1.56" fill="#bcbcbc"/><path d="M277.74,279.10 C278.35,280.45 279.38,280.05 280.20,280.58 C281.02,281.15 281.92,280.87 281.84,279.02" fill="none" stroke="#4e4e4e" stroke-width="0.66" stroke-linecap="round"/>
<rect x="236.95" y="302.20" width="1.1" height="9.00" fill="#d878e2"/>
<text x="243" y="309.80" fill="#c060d0" font-size="7.6" stroke="#c060d0" stroke-width="0.15">Prunellidae <tspan font-size="5.6">(<tspan font-weight="700">49.1%</tspan>; 26/53)</tspan></text>
<circle cx="325.60" cy="306.50" r="3.90" fill="#fff" stroke="#d0d0d0" stroke-width="0.45"/><circle cx="325.48" cy="305.52" r="1.48" fill="#bcbcbc"/><path d="M323.26,307.36 C323.85,308.64 324.82,308.25 325.60,308.76 C326.38,309.31 327.24,309.04 327.16,307.28" fill="none" stroke="#4e4e4e" stroke-width="0.62" stroke-linecap="round"/>
<rect x="236.95" y="313.50" width="1.1" height="20.30" fill="#a664d2"/>
<text x="243" y="322.50" fill="#a050c8" font-size="7.6" stroke="#a050c8" stroke-width="0.15">Passeridae</text>
<text x="243" y="329.60" fill="#a050c8" stroke="#a050c8" stroke-width="0.12" font-size="5.6">(<tspan font-weight="700">9.5%</tspan>; 2/21)</text>
<circle cx="285.60" cy="319.70" r="3.10" fill="#faeee8" stroke="#ead8d0" stroke-width="0.25"/><circle cx="285.60" cy="319.70" r="2.36" fill="#c48a6a"/>
<rect x="236.95" y="336.80" width="1.1" height="19.90" fill="#5a4682"/>
<text x="243" y="345.50" fill="#5a4080" font-size="7.6" stroke="#5a4080" stroke-width="0.15">Emberizidae</text>
<text x="243" y="352.60" fill="#5a4080" stroke="#5a4080" stroke-width="0.12" font-size="5.6">(<tspan font-weight="700">7.7%</tspan>; 4/52)</text>
<circle cx="290.80" cy="343.50" r="4.00" fill="#fff" stroke="#d0d0d0" stroke-width="0.45"/><circle cx="290.68" cy="342.50" r="1.52" fill="#bcbcbc"/><path d="M288.40,344.38 C289.00,345.70 290.00,345.30 290.80,345.82 C291.60,346.38 292.48,346.10 292.40,344.30" fill="none" stroke="#4e4e4e" stroke-width="0.64" stroke-linecap="round"/>
<rect x="236.95" y="358.90" width="1.1" height="79.50" fill="#ae98d8"/>
<text x="243" y="394.50" fill="#9a70c8" font-size="7.6" stroke="#9a70c8" stroke-width="0.15">Fringillidae</text>
<text x="243" y="401.60" fill="#9a70c8" stroke="#9a70c8" stroke-width="0.12" font-size="5.6">(<tspan font-weight="700">20.3%</tspan>; 26/128)</text>
<circle cx="284.80" cy="391.40" r="3.00" fill="#faeee8" stroke="#ead8d0" stroke-width="0.24"/><circle cx="284.80" cy="391.40" r="2.28" fill="#c48a6a"/>
</g>
<line x1="8.6" y1="443.3" x2="27.4" y2="443.3" stroke="#666" stroke-width="0.7"/><text x="16.2" y="450.5" font-size="3.6" fill="#555">11</text><circle cx="47.10" cy="447.40" r="5.80" fill="#faeee8" stroke="#ead8d0" stroke-width="0.46"/><circle cx="47.10" cy="447.40" r="4.41" fill="#c48a6a"/><text x="55" y="449.8" font-size="4.75" fill="#2a2a2a" stroke="#2a2a2a" stroke-width="0.1">= Only Coccidia Present</text><circle cx="126.20" cy="447.00" r="6.20" fill="#fbfdff" stroke="#e0e8f0" stroke-width="0.43"/><path d="M122.36,446.07 C123.41,448.55 124.96,448.24 126.51,448.86 C128.06,449.48 128.99,450.41 129.92,449.79 C130.54,448.86 130.23,447.00 129.30,446.69" fill="none" stroke="#5a7ab0" stroke-width="1.12" stroke-linecap="round"/><text x="134.8" y="450.2" font-size="4.75" fill="#2a2a2a" stroke="#2a2a2a" stroke-width="0.1">= Only Helminths Present</text><circle cx="217.40" cy="446.00" r="6.60" fill="#fff" stroke="#d0d0d0" stroke-width="0.59"/><circle cx="217.20" cy="444.35" r="2.51" fill="#bcbcbc"/><path d="M213.44,447.45 C214.43,449.63 216.08,448.97 217.40,449.83 C218.72,450.75 220.17,450.29 220.04,447.32" fill="none" stroke="#4e4e4e" stroke-width="1.06" stroke-linecap="round"/><text x="225.8" y="450.6" font-size="4.75" fill="#2a2a2a" stroke="#2a2a2a" stroke-width="0.1">= Both Present</text>
<rect x="0" y="0" width="348" height="1" fill="#8a8a8a"/>
<rect x="0" y="0" width="1.1" height="454" fill="#6a6a6a"/>
<rect x="347.7" y="0" width="1.0" height="454.7" fill="#6a6a6a"/>
<rect x="0" y="453.7" width="348.6" height="1.0" fill="#707070"/>
</g>
</svg>
</body></html>
